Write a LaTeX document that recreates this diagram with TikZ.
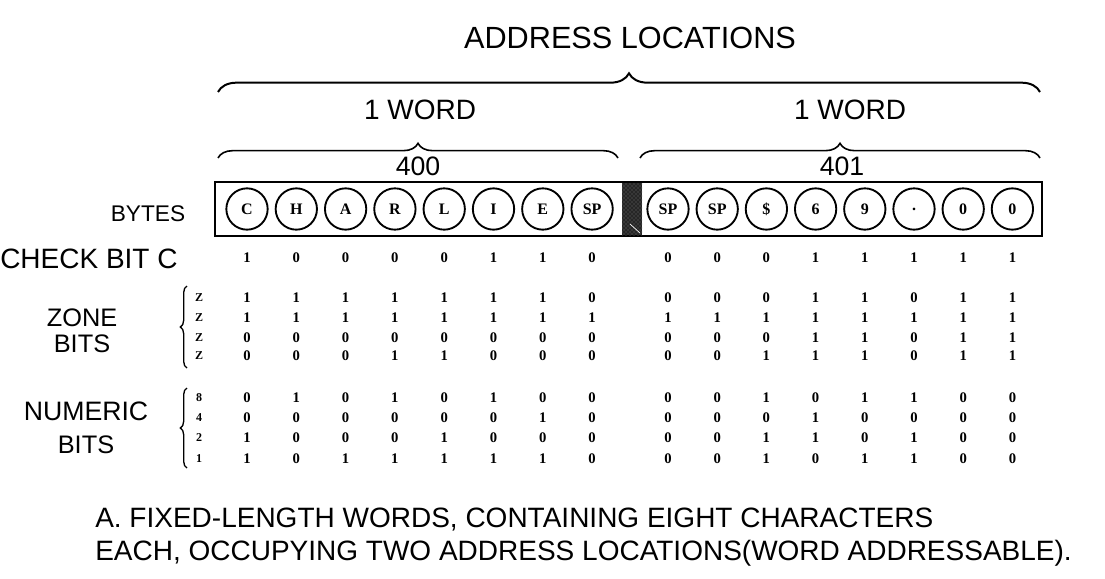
\documentclass[tikz,border=0pt]{standalone}
\usepackage{fontspec}
\setmainfont{Liberation Sans}
\usetikzlibrary{decorations.pathreplacing,patterns}
\newfontfamily\bitfont{Liberation Serif}
\newcommand\bitrow[3]{%
  \foreach \d [count=\k from 0] in {#2}{\node[bit] at ({247+49.3*\k},#1) {\d};}%
  \foreach \d [count=\k from 0] in {#3}{\node[bit] at ({668+49.2*\k},#1) {\d};}}
\begin{document}
\begin{tikzpicture}[x=0.75pt,y=-0.75pt,
  lab/.style={font=\fontsize{17}{20}\selectfont,inner sep=0pt},
  captxt/.style={font=\fontsize{21}{24}\selectfont,inner sep=0pt,anchor=west},
  bit/.style={font=\bitfont\bfseries\fontsize{11}{12}\selectfont,inner sep=0pt},
  byte/.style={circle,draw,line width=1.4pt,minimum size=31pt,inner sep=0pt,font=\bitfont\bfseries\fontsize{12}{13}\selectfont},
  brc/.style={decorate,decoration={brace,amplitude=14pt},line width=1.5pt},
  mbrc/.style={decorate,decoration={brace,amplitude=11pt},line width=1.2pt},
  lbrc/.style={decorate,decoration={brace,amplitude=5pt,mirror},line width=1pt}]
\useasboundingbox (0,0) rectangle (1105,578);
\node[lab,font=\fontsize{23}{26}\selectfont] (addr) at (630,38) {ADDRESS LOCATIONS};
\draw[brc] (218,92) -- (1040,92);
\node[lab,font=\fontsize{21}{24}\selectfont] (w1) at (420,110) {1 WORD};
\node[lab,font=\fontsize{21}{24}\selectfont] (w2) at (850,110) {1 WORD};
\draw[mbrc] (218,158) -- (618,158);
\draw[mbrc] (640,158) -- (1040,158);
\node[lab,font=\fontsize{20}{24}\selectfont] (a400) at (418,166) {400};
\node[lab,font=\fontsize{20}{24}\selectfont] (a401) at (842,166) {401};
\node[draw,line width=1.6pt,minimum width=620pt,minimum height=40pt,inner sep=0pt] (box) at (628.5,209) {};
\fill[black!85] (622,183) rectangle (642,235);
\fill[pattern=crosshatch dots,pattern color=black!55] (622,183) rectangle (642,235);
\draw[white,line width=0.5pt] (630,224) -- (640,233);
\foreach \c [count=\i] in {C,H,A,R,L,I,E,SP}{
  \node[byte] (b\i) at ({247+49.3*(\i-1)},209) {\c};}
\foreach \c [count=\i] in {SP,SP,\$,6,9,.,0,0}{
  \node[byte] (r\i) at ({668+49.2*(\i-1)},209) {\c};}
\node[lab] (bytes) at (148,214) {BYTES};
\node[lab,anchor=west,font=\fontsize{21}{24}\selectfont] (chk) at (0,259) {CHECK BIT C};
\node[lab,font=\fontsize{19}{22}\selectfont] (zone) at (82,318) {ZONE};
\node[lab,font=\fontsize{19}{22}\selectfont] (zb) at (82,344) {BITS};
\node[lab,font=\fontsize{20}{22}\selectfont] (num) at (86,411) {NUMERIC};
\node[lab,font=\fontsize{19}{22}\selectfont] (nb) at (86,445) {BITS};
\draw[lbrc] (187,286) -- (187,368);
\draw[lbrc] (187,388) -- (187,468);
\foreach \y/\l in {298/Z,318/Z,338/Z,356/Z,398/8,418/4,438/2,459/1}
  \node[bit,font=\bitfont\bfseries\fontsize{9}{10}\selectfont] at (199,\y) {\l};
\bitrow{258}{1,0,0,0,0,1,1,0}{0,0,0,1,1,1,1,1}
\bitrow{298}{1,1,1,1,1,1,1,0}{0,0,0,1,1,0,1,1}
\bitrow{318}{1,1,1,1,1,1,1,1}{1,1,1,1,1,1,1,1}
\bitrow{338}{0,0,0,0,0,0,0,0}{0,0,0,1,1,0,1,1}
\bitrow{356}{0,0,0,1,1,0,0,0}{0,0,1,1,1,0,1,1}
\bitrow{398}{0,1,0,1,0,1,0,0}{0,0,1,0,1,1,0,0}
\bitrow{418}{0,0,0,0,0,0,1,0}{0,0,0,1,0,0,0,0}
\bitrow{438}{1,0,0,0,1,0,0,0}{0,0,1,1,0,1,0,0}
\bitrow{459}{1,0,1,1,1,1,1,0}{0,0,1,0,1,1,0,0}
\node[captxt] (c1) at (95,520) {A. FIXED-LENGTH WORDS, CONTAINING EIGHT CHARACTERS};
\node[captxt] (c2) at (95,553) {EACH, OCCUPYING TWO ADDRESS LOCATIONS(WORD ADDRESSABLE).};
\end{tikzpicture}
\end{document}
